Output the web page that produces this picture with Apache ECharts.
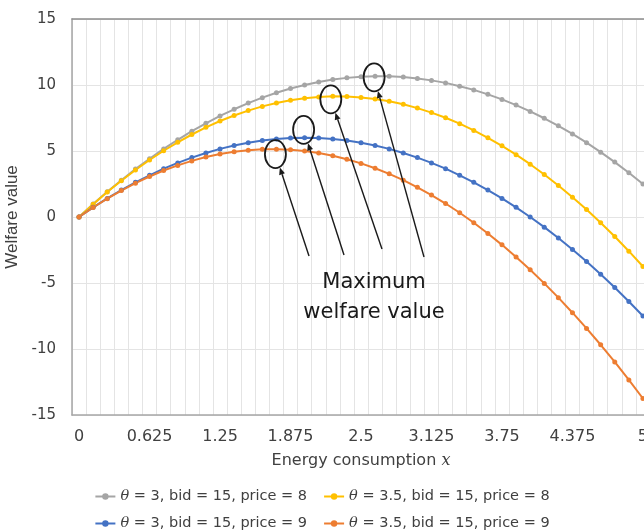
<!DOCTYPE html>
<html><head><meta charset="utf-8">
<script src="https://cdn.jsdelivr.net/npm/echarts@6/dist/echarts.min.js"></script>
<style>html,body{margin:0;padding:0;background:#fff}#c{width:644px;height:530px}</style>
</head><body><div id="c"></div>
<script>
const categories = ['0','0.125','0.25','0.375','0.5','0.625','0.75','0.875','1','1.125','1.25','1.375','1.5','1.625','1.75','1.875','2','2.125','2.25','2.375','2.5','2.625','2.75','2.875','3','3.125','3.25','3.375','3.5','3.625','3.75','3.875','4','4.125','4.25','4.375','4.5','4.625','4.75','4.875','5'];
const seriesNames = ['θ = 3, bid = 15, price = 8','θ = 3.5, bid = 15, price = 8','θ = 3, bid = 15, price = 9','θ = 3.5, bid = 15, price = 9'];
const grayValues = [0,0.98,1.91,2.79,3.63,4.41,5.16,5.85,6.5,7.1,7.66,8.16,8.63,9.04,9.41,9.73,10,10.23,10.41,10.54,10.63,10.66,10.66,10.6,10.5,10.35,10.16,9.91,9.63,9.29,8.91,8.48,8,7.48,6.91,6.29,5.63,4.91,4.16,3.35,2.5];
const yellowValues = [0,0.97,1.89,2.75,3.56,4.32,5.02,5.66,6.25,6.79,7.27,7.69,8.06,8.38,8.64,8.85,9,9.1,9.14,9.13,9.06,8.94,8.77,8.54,8.25,7.91,7.52,7.07,6.56,6,5.39,4.72,4,3.22,2.39,1.5,0.56,-0.43,-1.48,-2.59,-3.75];
const blueValues = [0,0.73,1.41,2.04,2.63,3.16,3.66,4.1,4.5,4.85,5.16,5.41,5.63,5.79,5.91,5.98,6,5.98,5.91,5.79,5.63,5.41,5.16,4.85,4.5,4.1,3.66,3.16,2.63,2.04,1.41,0.73,0,-0.77,-1.59,-2.46,-3.38,-4.34,-5.34,-6.4,-7.5];
const orangeValues = [0,0.72,1.39,2,2.56,3.07,3.52,3.91,4.25,4.54,4.77,4.94,5.06,5.13,5.14,5.1,5,4.85,4.64,4.38,4.06,3.69,3.27,2.79,2.25,1.66,1.02,0.32,-0.44,-1.25,-2.11,-3.03,-4,-5.03,-6.11,-7.25,-8.44,-9.68,-10.98,-12.34,-13.75];
const yMin = -15, yMax = 15, yInterval = 5;
const colors = ['#A5A5A5','#FFC000','#4472C4','#ED7D31'];
const allValues = [grayValues, yellowValues, blueValues, orangeValues];

const chart = echarts.init(document.getElementById('c'), null, {renderer:'canvas'});
const legendText = {
  color:'#404040', fontSize:14.5, fontFamily:'DejaVu Sans',
  rich:{t:{fontStyle:'italic', fontFamily:'DejaVu Serif', fontSize:14.5, color:'#404040'}}
};
const fmt = n => n.replace('θ','{t|θ}');
chart.setOption({
  animation:false,
  backgroundColor:'#fff',
  grid:{left:72, top:19, width:578, height:396, containLabel:false, outerBoundsMode:'none'},
  legend:[
    {data:[seriesNames[0],seriesNames[1]], top:484, left:'center', itemGap:16, itemWidth:20, itemHeight:8, textStyle:legendText, formatter:fmt},
    {data:[seriesNames[2],seriesNames[3]], top:511, left:'center', itemGap:16, itemWidth:20, itemHeight:8, textStyle:legendText, formatter:fmt}
  ],
  xAxis:[{
    type:'category', data:categories, boundaryGap:true, position:'bottom',
    axisLine:{onZero:false, lineStyle:{color:'#a6a6a6', width:1.5}},
    axisTick:{show:false},
    axisLabel:{interval:4, color:'#404040', fontSize:16, fontFamily:'DejaVu Sans', margin:14},
    splitLine:{show:true, interval:0, lineStyle:{color:'#e4e4e4', width:1}},
    name:'Energy consumption {i|x}', nameLocation:'middle', nameGap:38,
    nameTextStyle:{color:'#404040', fontSize:16, fontFamily:'DejaVu Sans',
      rich:{i:{fontStyle:'italic', fontFamily:'DejaVu Serif', fontSize:16, color:'#404040'}}}
  },{
    type:'category', data:categories, position:'top',
    axisLine:{show:true, onZero:false, lineStyle:{color:'#8c8c8c', width:1.5}},
    axisTick:{show:false}, axisLabel:{show:false}, splitLine:{show:false}
  }],
  yAxis:{
    type:'value', min:yMin, max:yMax, interval:yInterval,
    axisLine:{show:true, onZero:false, lineStyle:{color:'#a6a6a6', width:1.5}},
    axisTick:{show:false},
    axisLabel:{color:'#404040', fontSize:15, fontFamily:'DejaVu Sans', margin:16},
    splitLine:{show:true, lineStyle:{color:'#e4e4e4', width:1}},
    name:'Welfare value', nameLocation:'middle', nameGap:36,
    nameTextStyle:{color:'#404040', fontSize:17, fontFamily:'Liberation Sans'}
  },
  series: allValues.map((vals,k)=>({
    name:seriesNames[k], type:'line', data:vals,
    symbol:'circle', symbolSize:5, showSymbol:true,
    lineStyle:{color:colors[k], width:2},
    itemStyle:{color:colors[k]},
    emphasis:{disabled:true}
  }))
});

// Annotation: ellipses around each curve's maximum, arrows, and label
const ellipseOffsets = [[-1,1],[-2,3],[-1,-8],[-1,5]]; // small visual offsets of hand-drawn ellipses
const tails = [[424,257],[382,249],[344,255],[309,256]];
const rx = 10.5, ry = 14;
const graphics = [];
allValues.forEach((vals,k)=>{
  let mi = 0; vals.forEach((v,i)=>{ if (v > vals[mi]) mi = i; });
  const p = chart.convertToPixel({xAxisIndex:0, yAxisIndex:0}, [mi, vals[mi]]);
  const cx = p[0] + ellipseOffsets[k][0], cy = p[1] + ellipseOffsets[k][1];
  graphics.push({type:'ellipse', shape:{cx:cx, cy:cy, rx:rx, ry:ry}, style:{fill:null, stroke:'#1a1a1a', lineWidth:1.8}, z:100});
  const [tx,ty] = tails[k];
  let dx = tx - cx, dy = ty - cy;
  const s = 1/Math.sqrt((dx/rx)*(dx/rx)+(dy/ry)*(dy/ry));
  const hx = cx + dx*s*1.05, hy = cy + dy*s*1.05;
  const L = Math.hypot(tx-hx, ty-hy);
  const ux = (hx-tx)/L, uy = (hy-ty)/L;
  const bx = hx - ux*7, by = hy - uy*7;
  const nx = -uy, ny = ux;
  graphics.push({type:'line', shape:{x1:tx, y1:ty, x2:bx, y2:by}, style:{stroke:'#1a1a1a', lineWidth:1.4}, z:100});
  graphics.push({type:'polygon', shape:{points:[[hx,hy],[bx+nx*3,by+ny*3],[bx-nx*3,by-ny*3]]}, style:{fill:'#1a1a1a'}, z:100});
});
graphics.push({type:'text', x:374, y:298, z:100, style:{text:'Maximum\nwelfare value', fill:'#1a1a1a', font:'21px "DejaVu Sans"', align:'center', verticalAlign:'middle', lineHeight:30}});
chart.setOption({graphic:graphics});
</script></body></html>
